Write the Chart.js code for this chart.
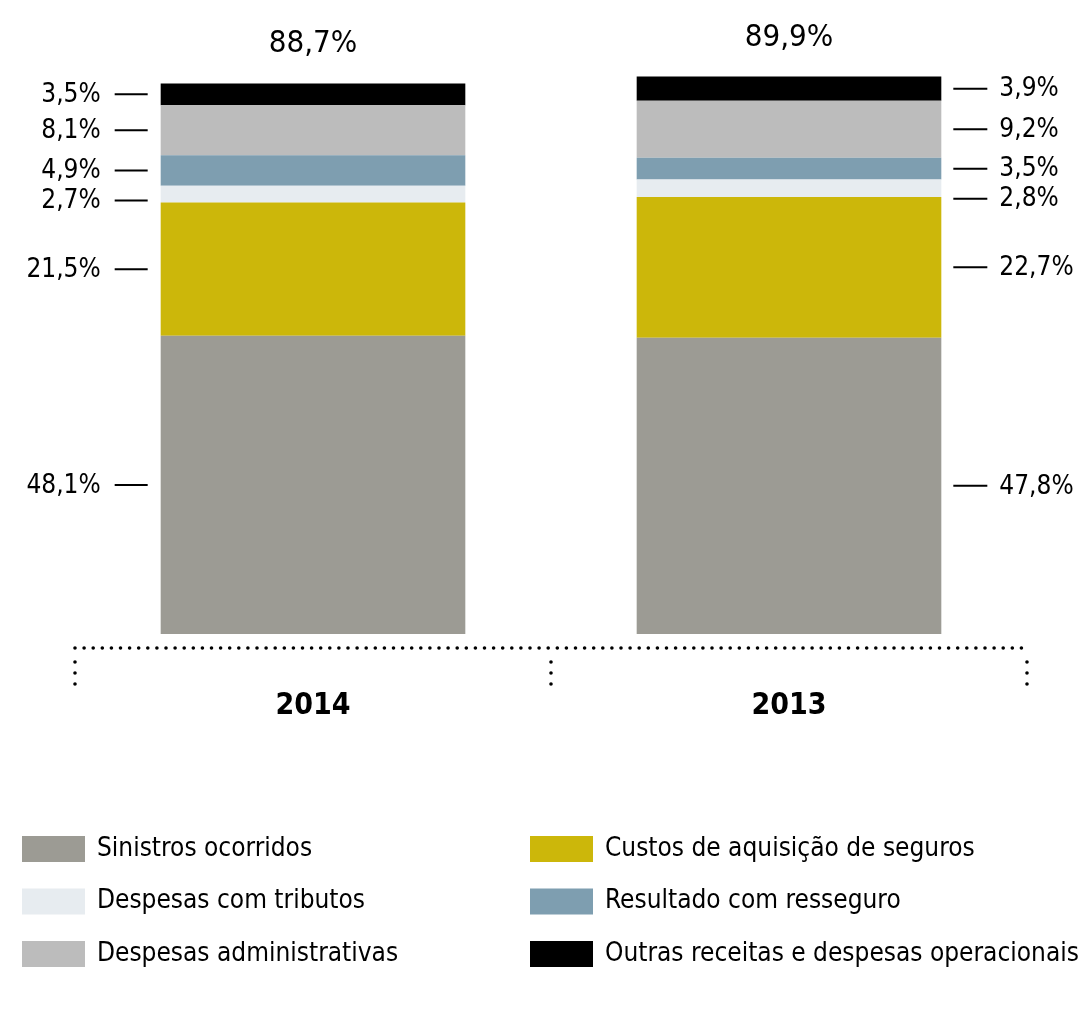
<!DOCTYPE html>
<html><head><meta charset="utf-8">
<script src="https://cdn.jsdelivr.net/npm/chart.js@4.4.1/dist/chart.umd.min.js"></script>
<style>html,body{margin:0;padding:0;background:#fff;}#wrap{width:1083px;height:1026px;}</style>
</head><body><div id="wrap"><canvas id="c" width="1083" height="1026"></canvas></div>
<script>
const years = ['2014', '2013'];
const totals = [88.7, 89.9];
const seriesNames = ['Sinistros ocorridos','Custos de aquisição de seguros','Despesas com tributos','Resultado com resseguro','Despesas administrativas','Outras receitas e despesas operacionais'];
const sinistros = [48.1, 47.8];
const custos = [21.5, 22.7];
const tributos = [2.7, 2.8];
const resseguro = [4.9, 3.5];
const administrativas = [8.1, 9.2];
const outras = [3.5, 3.9];
const colors = ['#9c9b94','#ccb70a','#e7ecf0','#7e9eb0','#bcbcbc','#000000'];
const legendOrder = [0, 1, 2, 3, 4, 5];

const FONT = '"Liberation Sans Narrow","DejaVu Sans Condensed","Liberation Sans",sans-serif';
const fmt = v => v.toFixed(1).replace('.', ',') + '%';

const values = [sinistros, custos, tributos, resseguro, administrativas, outras];
const datasets = values.map((v, i) => ({
  label: seriesNames[i], data: v, backgroundColor: colors[i],
  borderWidth: 0, barPercentage: 1, categoryPercentage: 0.64
}));

const overlay = {
  id: 'overlay',
  afterDatasetsDraw(chart) {
    const ctx = chart.ctx, xs = chart.scales.x, ys = chart.scales.y, ca = chart.chartArea;
    ctx.save();
    // segment labels
    ctx.fillStyle = '#000'; ctx.strokeStyle = '#000'; ctx.lineWidth = 2;
    ctx.font = '26px ' + FONT; ctx.textBaseline = 'middle';
    years.forEach((y, j) => {
      const left = j === 0;
      let base = 0; const pos = [];
      values.forEach((v, i) => { const mid = ys.getPixelForValue(base + v[j] / 2); pos.push(mid); base += v[j]; });
      // avoid overlaps from top downwards
      for (let i = pos.length - 2; i >= 0; i--) { if (pos[i] - pos[i + 1] < 30) pos[i] = pos[i + 1] + 30; }
      const meta = chart.getDatasetMeta(0).data[j];
      const bl = meta.x - meta.width / 2, br = meta.x + meta.width / 2;
      values.forEach((v, i) => {
        const py = pos[i];
        ctx.beginPath();
        if (left) { ctx.moveTo(bl - 46, py); ctx.lineTo(bl - 13, py); }
        else { ctx.moveTo(br + 12, py); ctx.lineTo(br + 46, py); }
        ctx.stroke();
        ctx.textAlign = left ? 'right' : 'left';
        ctx.fillText(fmt(v[j]), left ? bl - 60 : br + 58, py + 1);
      });
      // totals
      let top = 0; values.forEach(v => top += v[j]);
      ctx.textAlign = 'center'; ctx.font = '31px ' + FONT;
      ctx.fillText(fmt(totals[j]), meta.x, ys.getPixelForValue(top) - 39);
      ctx.font = '26px ' + FONT;
    });
    // dotted axis
    ctx.setLineDash([0, 9.1]); ctx.lineCap = 'round'; ctx.lineWidth = 3.6;
    const ay = ca.bottom + 14;
    ctx.beginPath(); ctx.moveTo(ca.left, ay); ctx.lineTo(ca.right + 1, ay); ctx.stroke();
    const step = (ca.right - ca.left) / years.length;
    for (let k = 0; k <= years.length; k++) {
      const x = ca.left + k * step;
      ctx.beginPath(); ctx.moveTo(x, ay + 14); ctx.lineTo(x, ay + 38); ctx.setLineDash([0, 11]); ctx.stroke();
    }
    ctx.setLineDash([]);
    // year labels
    ctx.font = 'bold 30px ' + FONT; ctx.textAlign = 'center';
    years.forEach((y, j) => ctx.fillText(y, xs.getPixelForValue(j), ay + 58));
    // legend
    ctx.font = '26px ' + FONT; ctx.textAlign = 'left';
    legendOrder.forEach((i, n) => {
      const col = n % 2, row = Math.floor(n / 2);
      const lx = col === 0 ? 22 : 530, ly = 836 + row * 52.5;
      ctx.fillStyle = colors[i]; ctx.fillRect(lx, ly, 63, 26);
      ctx.fillStyle = '#000'; ctx.fillText(seriesNames[i], lx + 75, ly + 13);
    });
    ctx.restore();
  }
};

new Chart(document.getElementById('c'), {
  type: 'bar',
  data: { labels: years, datasets },
  options: {
    responsive: false, animation: false,
    layout: { padding: { left: 75, right: 56, top: 14, bottom: 392 } },
    plugins: { legend: { display: false }, tooltip: { enabled: false } },
    scales: {
      x: { stacked: true, display: false },
      y: { stacked: true, display: false, min: 0, max: 100 }
    }
  },
  plugins: [overlay]
});
</script></body></html>
